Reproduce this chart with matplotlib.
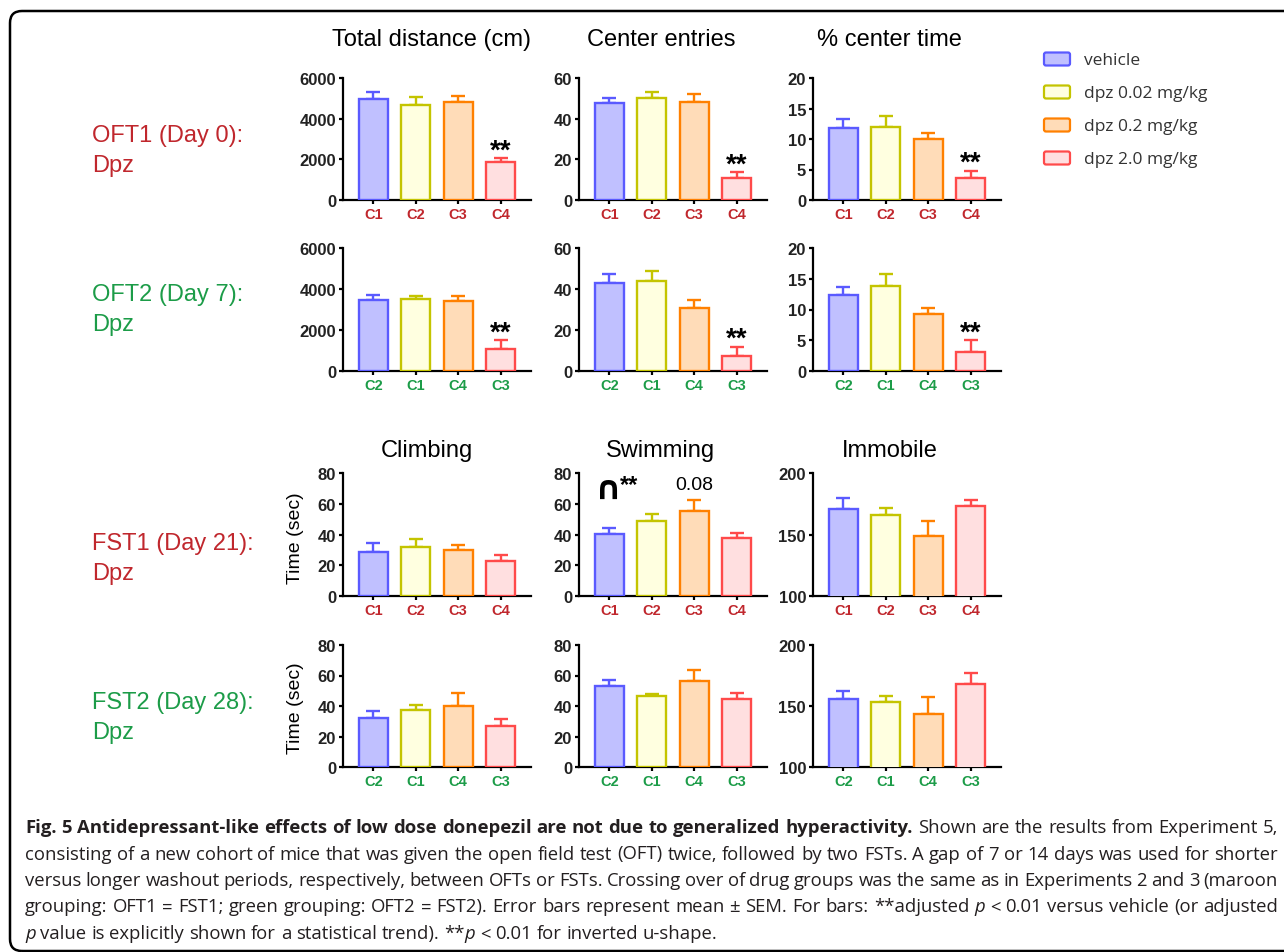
import matplotlib
matplotlib.use("Agg")
import matplotlib.pyplot as plt
from matplotlib.patches import FancyBboxPatch
from matplotlib.transforms import IdentityTransform
from matplotlib import font_manager
import numpy as np

plt.rcParams['font.family'] = ['Liberation Sans', 'DejaVu Sans']

# groups / legend
groups = ["vehicle", "dpz 0.02 mg/kg", "dpz 0.2 mg/kg", "dpz 2.0 mg/kg"]
edges = ["#5a5aff", "#c4c400", "#ff8000", "#ff4a4a"]
fills = ["#c0c0ff", "#ffffe0", "#ffdcb8", "#ffdfe0"]
maroon = "#c0272d"
green = "#1c9c48"

labels_maroon = ["C1", "C2", "C3", "C4"]
labels_green = ["C2", "C1", "C4", "C3"]

# OFT1 (day 0)
td1 = [4950, 4690, 4800, 1870]
td1_err = [360, 375, 295, 195]
ce1 = [47.7, 50.0, 48.1, 10.8]
ce1_err = [2.5, 3.3, 3.9, 2.9]
ct1 = [11.8, 11.9, 10.0, 3.65]
ct1_err = [1.5, 1.8, 1.0, 1.15]

# OFT2 (day 7)
td2 = [3480, 3500, 3400, 1050]
td2_err = [245, 180, 280, 440]
ce2 = [42.8, 44.0, 30.7, 7.2]
ce2_err = [4.6, 4.7, 4.0, 4.7]
ct2 = [12.3, 13.8, 9.2, 3.1]
ct2_err = [1.4, 1.9, 1.0, 1.9]

# FST1 (day 21)
climb1 = [28.3, 32.0, 29.6, 23.0]
climb1_err = [6.0, 5.0, 3.4, 3.5]
swim1 = [40.2, 49.1, 55.4, 37.8]
swim1_err = [3.9, 4.2, 7.0, 2.9]
immob1 = [170.7, 165.8, 148.6, 173.4]
immob1_err = [8.9, 5.4, 12.3, 4.6]

# FST2 (day 28)
climb2 = [32.0, 37.2, 40.3, 26.6]
climb2_err = [4.4, 3.5, 8.3, 4.6]
swim2 = [53.4, 46.8, 56.2, 44.7]
swim2_err = [3.7, 1.1, 7.4, 4.1]
immob2 = [156.1, 153.1, 143.1, 168.4]
immob2_err = [6.0, 5.2, 14.4, 8.4]

W, H = 1284, 953
fig = plt.figure(figsize=(W / 100, H / 100), dpi=100)


def fy(py):
    return 1 - py / H


def add_ax(x0, y0, x1, y1):
    return fig.add_axes([x0 / W, 1 - y1 / H, (x1 - x0) / W, (y1 - y0) / H])


def draw_panel(ax, vals, errs, ticklabels, tcolor, ylim, yticks, stars=False):
    x = np.arange(len(vals))
    ax.bar(x, vals, width=0.69, color=fills, edgecolor=edges, linewidth=1.7, zorder=3)
    for xi, v, e, c in zip(x, vals, errs, edges):
        ax.errorbar(xi, v, yerr=[[0], [e]], fmt='none', ecolor=c,
                    elinewidth=1.7, capsize=4.8, capthick=1.7, zorder=2)
    ax.set_xlim(-0.72, 3.72)
    ax.set_ylim(*ylim)
    ax.set_yticks(yticks)
    ax.set_xticks(x)
    ax.set_xticklabels(ticklabels, color=tcolor, fontweight='bold', fontsize=10.5)
    for lab in ax.get_yticklabels():
        lab.set_fontweight('bold')
        lab.set_fontsize(12)
        lab.set_color('#222222')
    ax.spines['top'].set_visible(False)
    ax.spines['right'].set_visible(False)
    ax.spines['left'].set_linewidth(1.6)
    ax.spines['bottom'].set_linewidth(1.6)
    ax.tick_params(axis='both', direction='out', length=3, width=1.6, pad=2)
    ax.patch.set_alpha(0)
    if stars:
        ax.annotate('**', xy=(3, vals[3] + errs[3]), xytext=(0, 0.5),
                    textcoords='offset points', ha='center', va='baseline',
                    fontsize=20, fontweight='bold')


# outer frame
frame = FancyBboxPatch((10, 1), 1300, 940, boxstyle='round,pad=0,rounding_size=12',
                       transform=IdentityTransform(), fill=False, lw=1.8, ec='black')
fig.add_artist(frame)

col_x = [343, 579, 813]
col_w = 188
rows = [(79, 201), (249, 372), (474, 597), (646, 768)]

panels = [
    [(td1, td1_err, (0, 6000), [0, 2000, 4000, 6000]),
     (ce1, ce1_err, (0, 60), [0, 20, 40, 60]),
     (ct1, ct1_err, (0, 20), [0, 5, 10, 15, 20])],
    [(td2, td2_err, (0, 6000), [0, 2000, 4000, 6000]),
     (ce2, ce2_err, (0, 60), [0, 20, 40, 60]),
     (ct2, ct2_err, (0, 20), [0, 5, 10, 15, 20])],
    [(climb1, climb1_err, (0, 80), [0, 20, 40, 60, 80]),
     (swim1, swim1_err, (0, 80), [0, 20, 40, 60, 80]),
     (immob1, immob1_err, (100, 200), [100, 150, 200])],
    [(climb2, climb2_err, (0, 80), [0, 20, 40, 60, 80]),
     (swim2, swim2_err, (0, 80), [0, 20, 40, 60, 80]),
     (immob2, immob2_err, (100, 200), [100, 150, 200])],
]

axes = []
for r, (top, bot) in enumerate(rows):
    row_axes = []
    for c in range(3):
        ax = add_ax(col_x[c], top, col_x[c] + col_w, bot)
        vals, errs, ylim, yt = panels[r][c]
        tl = labels_maroon if r % 2 == 0 else labels_green
        tc = maroon if r % 2 == 0 else green
        draw_panel(ax, vals, errs, tl, tc, ylim, yt, stars=(r < 2))
        row_axes.append(ax)
    axes.append(row_axes)

# swimming FST1 annotations (inverted u-shape and trend)
sw = axes[2][1]
sw.text(-0.02, 63.5, '\u2229', ha='center', va='baseline', fontsize=24,
        fontweight='bold', family=['DejaVu Sans'])
sw.text(0.47, 68, '**', ha='center', va='baseline', fontsize=17, fontweight='bold')
sw.text(2, 69.6, '0.08', ha='center', va='baseline', fontsize=14)

# column titles
titles_top = ["Total distance (cm)", "Center entries", "% center time"]
titles_fst = ["Climbing", "Swimming", "Immobile"]
for xc, t in zip([431, 661, 889], titles_top):
    fig.text(xc / W, fy(40), t, ha='center', va='center', fontsize=17)
for xc, t in zip([427, 660, 890], titles_fst):
    fig.text(xc / W, fy(451), t, ha='center', va='center', fontsize=17)

# row labels
row_labels = ["OFT1 (Day 0):\nDpz", "OFT2 (Day 7):\nDpz", "FST1 (Day 21):\nDpz", "FST2 (Day 28):\nDpz"]
row_centers = [151, 310, 559, 718]
for lab, yc, col in zip(row_labels, row_centers, [maroon, green, maroon, green]):
    fig.text(92 / W, fy(yc), lab, ha='left', va='center', fontsize=17, color=col, linespacing=1.45)

for yc in [538, 708]:
    fig.text(295 / W, fy(yc), "Time (sec)", rotation=90, ha='center', va='center', fontsize=14)

# legend
for i, (g, ec, fc) in enumerate(zip(groups, edges, fills)):
    yc = 60 + 33 * i
    p = FancyBboxPatch((1044, H - yc - 6.5), 26, 13, boxstyle='round,pad=0,rounding_size=2',
                       transform=IdentityTransform(), fc=fc, ec=ec, lw=1.6)
    fig.add_artist(p)
    fig.text(1084 / W, fy(yc + 1), g, ha='left', va='center', fontsize=12.5,
             family=['Open Sans', 'DejaVu Sans'], color='#333333')

# caption, justified word by word
names = {f.name for f in font_manager.fontManager.ttflist}
cap_font = 'Liberation Sans Narrow' if 'Liberation Sans Narrow' in names else 'Open Sans'

caption = [
    [("Fig. 5 Antidepressant-like effects of low dose donepezil are not due to generalized hyperactivity.", "bold"),
     (" Shown are the results from Experiment 5,", "normal")],
    [("consisting of a new cohort of mice that was given the open field test (OFT) twice, followed by two FSTs. "
      "A gap of 7 or 14 days was used for shorter", "normal")],
    [("versus longer washout periods, respectively, between OFTs or FSTs. Crossing over of drug groups was "
      "the same as in Experiments 2 and 3 (maroon", "normal")],
    [("grouping: OFT1 = FST1; green grouping: OFT2 = FST2). Error bars represent mean \u00b1 SEM. "
      "For bars: **adjusted ", "normal"), ("p", "italic"), (" < 0.01 versus vehicle (or adjusted", "normal")],
    [("p", "italic"), (" value is explicitly shown for a statistical trend). **", "normal"), ("p", "italic"),
     (" < 0.01 for inverted u-shape.", "normal")],
]
baselines = [833, 859.5, 886, 912.5, 939]
cap_left, cap_right = 25, 1278
cap_color = '#231f20'

renderer = fig.canvas.get_renderer()


def text_kw(style, fs):
    kw = dict(fontsize=fs, family=cap_font, color=cap_color)
    if style == 'bold':
        kw['fontweight'] = 'bold'
    if style == 'italic':
        kw['fontstyle'] = 'italic'
    return kw


def measure(s, style, fs):
    t = fig.text(0, 0, s, **text_kw(style, fs))
    w = t.get_window_extent(renderer).width
    t.remove()
    return w


def split_words(segs):
    words = [[]]
    for txt, style in segs:
        parts = txt.split(' ')
        for k, part in enumerate(parts):
            if k > 0:
                words.append([])
            if part:
                words[-1].append((part, style))
    return [w for w in words if w]


cap_words = [split_words(s) for s in caption]


def line_layout(fs):
    sp = measure('n n', 'normal', fs) - measure('nn', 'normal', fs)
    out = []
    for words in cap_words:
        ww = [[measure(p, st, fs) for p, st in w] for w in words]
        out.append((ww, sum(sum(x) for x in ww), sp))
    return out


fs = 13.0
lay = line_layout(fs)
target = cap_right - cap_left
scale = min(target / (tot + sp * (len(ww) - 1)) for ww, tot, sp in lay[:4])
fs = fs * scale
lay = line_layout(fs)

for i, (words, (ww, tot, sp)) in enumerate(zip(cap_words, lay)):
    gap = (target - tot) / (len(words) - 1) if i < 4 else sp
    x = cap_left
    for w, widths in zip(words, ww):
        for (p, st), pw in zip(w, widths):
            fig.text(x / W, fy(baselines[i]), p, va='baseline', ha='left', **text_kw(st, fs))
            x += pw
        x += gap

fig.savefig("out.png", dpi=100)
